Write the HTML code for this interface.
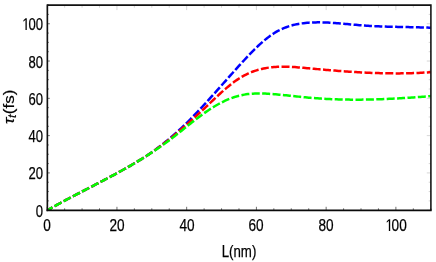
<!DOCTYPE html>
<html><head><meta charset="utf-8"><title>plot</title>
<style>
html,body{margin:0;padding:0;background:#fff;}
#p{position:relative;width:436px;height:262px;overflow:hidden;will-change:transform;
  font-family:"Liberation Sans",sans-serif;font-size:17px;line-height:20px;color:#000;-webkit-text-stroke:0.25px #000;}
svg{display:block;position:absolute;left:0;top:0;}
.t{position:absolute;width:40px;height:20px;white-space:nowrap;}
.xt{text-align:center;transform:scaleX(0.8);transform-origin:50% 50%;}
.yt{text-align:right;transform:scaleX(0.77);transform-origin:100% 50%;}
.k{letter-spacing:-1.5px;color:transparent;-webkit-text-stroke:0 transparent;}
#xl{position:absolute;left:199.20px;top:242.30px;width:80px;height:20px;text-align:center;
  transform:scaleX(0.78);transform-origin:50% 50%;white-space:nowrap;}
#yl{position:absolute;left:-0.40px;top:67.10px;width:20px;height:80px;text-align:center;
  writing-mode:vertical-rl;transform:rotate(180deg) scaleX(0.84);transform-origin:50% 50%;white-space:nowrap;}
#yl i{font-style:italic;}
#yl sub{font-size:12.3px;font-style:italic;vertical-align:baseline;position:relative;left:-3.5px;line-height:0;}
</style></head>
<body>
<div id="p">
<svg width="436" height="262" viewBox="0 0 436 262">
<defs><clipPath id="c"><rect x="47.35" y="5.1" width="383.54999999999995" height="205.1"/></clipPath></defs>
<g clip-path="url(#c)" fill="none" stroke-width="2.5" stroke-dasharray="8 2.4" stroke-dashoffset="2.2">
<path d="M47.35,210.20 L49.09,209.33 L50.84,208.34 L52.58,207.35 L54.32,206.37 L56.07,205.40 L57.81,204.44 L59.55,203.48 L61.30,202.53 L63.04,201.58 L64.78,200.64 L66.53,199.71 L68.27,198.77 L70.01,197.85 L71.76,196.93 L73.50,196.01 L75.24,195.09 L76.99,194.18 L78.73,193.27 L80.47,192.36 L82.22,191.46 L83.96,190.55 L85.70,189.65 L87.45,188.75 L89.19,187.85 L90.94,186.94 L92.68,186.04 L94.42,185.14 L96.17,184.23 L97.91,183.33 L99.65,182.42 L101.40,181.51 L103.14,180.59 L104.88,179.68 L106.63,178.76 L108.37,177.83 L110.11,176.90 L111.86,175.97 L113.60,175.03 L115.34,174.09 L117.09,173.14 L118.83,172.19 L120.57,171.23 L122.32,170.26 L124.06,169.28 L125.80,168.30 L127.55,167.31 L129.29,166.31 L131.03,165.31 L132.78,164.29 L134.52,163.26 L136.26,162.23 L138.01,161.18 L139.75,160.12 L141.49,159.06 L143.24,157.97 L144.98,156.87 L146.72,155.74 L148.47,154.59 L150.21,153.40 L151.95,152.19 L153.70,150.94 L155.44,149.67 L157.18,148.36 L158.93,147.03 L160.67,145.69 L162.41,144.34 L164.16,142.98 L165.90,141.59 L167.65,140.18 L169.39,138.74 L171.13,137.27 L172.88,135.77 L174.62,134.25 L176.36,132.69 L178.11,131.10 L179.85,129.49 L181.59,127.85 L183.34,126.18 L185.08,124.49 L186.82,122.78 L188.57,121.04 L190.31,119.29 L192.05,117.51 L193.80,115.72 L195.54,113.90 L197.28,112.07 L199.03,110.23 L200.77,108.36 L202.51,106.49 L204.26,104.60 L206.00,102.70 L207.74,100.79 L209.49,98.87 L211.23,96.94 L212.97,95.00 L214.72,93.06 L216.46,91.11 L218.20,89.15 L219.95,87.20 L221.69,85.23 L223.43,83.27 L225.18,81.31 L226.92,79.35 L228.66,77.39 L230.41,75.43 L232.15,73.47 L233.89,71.52 L235.64,69.58 L237.38,67.64 L239.12,65.71 L240.87,63.79 L242.61,61.88 L244.36,59.98 L246.10,58.11 L247.84,56.25 L249.59,54.43 L251.33,52.63 L253.07,50.86 L254.82,49.12 L256.56,47.42 L258.30,45.77 L260.05,44.16 L261.79,42.59 L263.53,41.08 L265.28,39.62 L267.02,38.22 L268.76,36.88 L270.51,35.61 L272.25,34.40 L273.99,33.26 L275.74,32.19 L277.48,31.20 L279.22,30.27 L280.97,29.41 L282.71,28.62 L284.45,27.88 L286.20,27.21 L287.94,26.59 L289.68,26.02 L291.43,25.51 L293.17,25.05 L294.91,24.63 L296.66,24.26 L298.40,23.92 L300.14,23.63 L301.89,23.38 L303.63,23.15 L305.37,22.97 L307.12,22.81 L308.86,22.67 L310.60,22.57 L312.35,22.48 L314.09,22.42 L315.83,22.38 L317.58,22.36 L319.32,22.36 L321.07,22.37 L322.81,22.41 L324.55,22.46 L326.30,22.52 L328.04,22.60 L329.78,22.69 L331.53,22.80 L333.27,22.91 L335.01,23.04 L336.76,23.17 L338.50,23.31 L340.24,23.45 L341.99,23.60 L343.73,23.76 L345.47,23.92 L347.22,24.08 L348.96,24.24 L350.70,24.40 L352.45,24.56 L354.19,24.72 L355.93,24.87 L357.68,25.02 L359.42,25.17 L361.16,25.31 L362.91,25.44 L364.65,25.56 L366.39,25.68 L368.14,25.79 L369.88,25.89 L371.62,25.99 L373.37,26.08 L375.11,26.16 L376.85,26.24 L378.60,26.32 L380.34,26.39 L382.08,26.46 L383.83,26.52 L385.57,26.58 L387.31,26.63 L389.06,26.68 L390.80,26.73 L392.54,26.78 L394.29,26.82 L396.03,26.86 L397.78,26.90 L399.52,26.94 L401.26,26.98 L403.01,27.01 L404.75,27.05 L406.49,27.08 L408.24,27.12 L409.98,27.15 L411.72,27.19 L413.47,27.22 L415.21,27.26 L416.95,27.30 L418.70,27.34 L420.44,27.38 L422.18,27.42 L423.93,27.47 L425.67,27.52 L427.41,27.57 L429.16,27.63 L430.90,27.69" stroke="#0000ff"/>
<path d="M47.35,210.20 L49.09,209.33 L50.84,208.34 L52.58,207.35 L54.32,206.37 L56.07,205.40 L57.81,204.44 L59.55,203.48 L61.30,202.53 L63.04,201.58 L64.78,200.64 L66.53,199.71 L68.27,198.77 L70.01,197.85 L71.76,196.93 L73.50,196.01 L75.24,195.09 L76.99,194.18 L78.73,193.27 L80.47,192.36 L82.22,191.46 L83.96,190.55 L85.70,189.65 L87.45,188.75 L89.19,187.85 L90.94,186.94 L92.68,186.04 L94.42,185.14 L96.17,184.23 L97.91,183.33 L99.65,182.42 L101.40,181.51 L103.14,180.59 L104.88,179.68 L106.63,178.76 L108.37,177.83 L110.11,176.90 L111.86,175.97 L113.60,175.03 L115.34,174.09 L117.09,173.14 L118.83,172.19 L120.57,171.23 L122.32,170.26 L124.06,169.28 L125.80,168.30 L127.55,167.31 L129.29,166.31 L131.03,165.31 L132.78,164.29 L134.52,163.26 L136.26,162.23 L138.01,161.18 L139.75,160.12 L141.49,159.06 L143.24,157.98 L144.98,156.88 L146.72,155.76 L148.47,154.63 L150.21,153.46 L151.95,152.28 L153.70,151.06 L155.44,149.82 L157.18,148.56 L158.93,147.27 L160.67,145.98 L162.41,144.67 L164.16,143.36 L165.90,142.02 L167.65,140.67 L169.39,139.29 L171.13,137.89 L172.88,136.47 L174.62,135.03 L176.36,133.56 L178.11,132.08 L179.85,130.58 L181.59,129.06 L183.34,127.54 L185.08,126.00 L186.82,124.45 L188.57,122.89 L190.31,121.33 L192.05,119.76 L193.80,118.18 L195.54,116.59 L197.28,115.00 L199.03,113.39 L200.77,111.78 L202.51,110.15 L204.26,108.52 L206.00,106.87 L207.74,105.22 L209.49,103.57 L211.23,101.91 L212.97,100.26 L214.72,98.61 L216.46,96.98 L218.20,95.36 L219.95,93.76 L221.69,92.18 L223.43,90.63 L225.18,89.10 L226.92,87.62 L228.66,86.17 L230.41,84.76 L232.15,83.40 L233.89,82.08 L235.64,80.83 L237.38,79.62 L239.12,78.48 L240.87,77.40 L242.61,76.39 L244.36,75.43 L246.10,74.54 L247.84,73.71 L249.59,72.93 L251.33,72.20 L253.07,71.53 L254.82,70.91 L256.56,70.34 L258.30,69.82 L260.05,69.35 L261.79,68.92 L263.53,68.53 L265.28,68.19 L267.02,67.88 L268.76,67.62 L270.51,67.39 L272.25,67.19 L273.99,67.03 L275.74,66.90 L277.48,66.81 L279.22,66.74 L280.97,66.69 L282.71,66.67 L284.45,66.68 L286.20,66.71 L287.94,66.76 L289.68,66.82 L291.43,66.91 L293.17,67.01 L294.91,67.12 L296.66,67.25 L298.40,67.38 L300.14,67.53 L301.89,67.68 L303.63,67.84 L305.37,68.00 L307.12,68.16 L308.86,68.33 L310.60,68.49 L312.35,68.65 L314.09,68.81 L315.83,68.97 L317.58,69.13 L319.32,69.29 L321.07,69.45 L322.81,69.60 L324.55,69.75 L326.30,69.90 L328.04,70.05 L329.78,70.20 L331.53,70.34 L333.27,70.48 L335.01,70.62 L336.76,70.76 L338.50,70.90 L340.24,71.03 L341.99,71.16 L343.73,71.29 L345.47,71.41 L347.22,71.53 L348.96,71.65 L350.70,71.77 L352.45,71.88 L354.19,71.99 L355.93,72.10 L357.68,72.20 L359.42,72.30 L361.16,72.39 L362.91,72.48 L364.65,72.57 L366.39,72.65 L368.14,72.73 L369.88,72.81 L371.62,72.88 L373.37,72.95 L375.11,73.01 L376.85,73.07 L378.60,73.12 L380.34,73.17 L382.08,73.21 L383.83,73.25 L385.57,73.29 L387.31,73.32 L389.06,73.34 L390.80,73.36 L392.54,73.37 L394.29,73.38 L396.03,73.39 L397.78,73.38 L399.52,73.38 L401.26,73.36 L403.01,73.34 L404.75,73.32 L406.49,73.28 L408.24,73.25 L409.98,73.20 L411.72,73.15 L413.47,73.10 L415.21,73.03 L416.95,72.96 L418.70,72.89 L420.44,72.80 L422.18,72.71 L423.93,72.62 L425.67,72.51 L427.41,72.40 L429.16,72.29 L430.90,72.16" stroke="#ff0000"/>
<path d="M47.35,210.20 L49.09,209.33 L50.84,208.34 L52.58,207.35 L54.32,206.37 L56.07,205.40 L57.81,204.44 L59.55,203.48 L61.30,202.53 L63.04,201.58 L64.78,200.64 L66.53,199.71 L68.27,198.77 L70.01,197.85 L71.76,196.93 L73.50,196.01 L75.24,195.09 L76.99,194.18 L78.73,193.27 L80.47,192.36 L82.22,191.46 L83.96,190.55 L85.70,189.65 L87.45,188.75 L89.19,187.85 L90.94,186.94 L92.68,186.04 L94.42,185.14 L96.17,184.23 L97.91,183.33 L99.65,182.42 L101.40,181.51 L103.14,180.59 L104.88,179.68 L106.63,178.76 L108.37,177.83 L110.11,176.90 L111.86,175.97 L113.60,175.03 L115.34,174.09 L117.09,173.14 L118.83,172.19 L120.57,171.23 L122.32,170.26 L124.06,169.28 L125.80,168.30 L127.55,167.31 L129.29,166.31 L131.03,165.31 L132.78,164.29 L134.52,163.26 L136.26,162.23 L138.01,161.18 L139.75,160.12 L141.49,159.06 L143.24,157.98 L144.98,156.89 L146.72,155.78 L148.47,154.67 L150.21,153.54 L151.95,152.40 L153.70,151.25 L155.44,150.08 L157.18,148.90 L158.93,147.70 L160.67,146.49 L162.41,145.26 L164.16,144.01 L165.90,142.75 L167.65,141.48 L169.39,140.18 L171.13,138.87 L172.88,137.55 L174.62,136.20 L176.36,134.84 L178.11,133.47 L179.85,132.08 L181.59,130.69 L183.34,129.29 L185.08,127.89 L186.82,126.50 L188.57,125.10 L190.31,123.71 L192.05,122.33 L193.80,120.96 L195.54,119.60 L197.28,118.26 L199.03,116.94 L200.77,115.64 L202.51,114.36 L204.26,113.11 L206.00,111.89 L207.74,110.70 L209.49,109.54 L211.23,108.42 L212.97,107.32 L214.72,106.27 L216.46,105.25 L218.20,104.26 L219.95,103.32 L221.69,102.41 L223.43,101.55 L225.18,100.72 L226.92,99.94 L228.66,99.20 L230.41,98.50 L232.15,97.85 L233.89,97.24 L235.64,96.68 L237.38,96.17 L239.12,95.71 L240.87,95.30 L242.61,94.93 L244.36,94.62 L246.10,94.34 L247.84,94.11 L249.59,93.91 L251.33,93.76 L253.07,93.64 L254.82,93.55 L256.56,93.49 L258.30,93.46 L260.05,93.46 L261.79,93.49 L263.53,93.53 L265.28,93.60 L267.02,93.69 L268.76,93.79 L270.51,93.91 L272.25,94.04 L273.99,94.17 L275.74,94.32 L277.48,94.48 L279.22,94.64 L280.97,94.80 L282.71,94.98 L284.45,95.15 L286.20,95.33 L287.94,95.51 L289.68,95.70 L291.43,95.89 L293.17,96.07 L294.91,96.26 L296.66,96.44 L298.40,96.63 L300.14,96.81 L301.89,96.99 L303.63,97.17 L305.37,97.34 L307.12,97.50 L308.86,97.66 L310.60,97.81 L312.35,97.96 L314.09,98.10 L315.83,98.23 L317.58,98.36 L319.32,98.48 L321.07,98.59 L322.81,98.70 L324.55,98.80 L326.30,98.90 L328.04,98.99 L329.78,99.07 L331.53,99.15 L333.27,99.22 L335.01,99.28 L336.76,99.34 L338.50,99.40 L340.24,99.45 L341.99,99.49 L343.73,99.53 L345.47,99.56 L347.22,99.59 L348.96,99.61 L350.70,99.63 L352.45,99.64 L354.19,99.65 L355.93,99.65 L357.68,99.65 L359.42,99.64 L361.16,99.63 L362.91,99.61 L364.65,99.59 L366.39,99.57 L368.14,99.54 L369.88,99.50 L371.62,99.46 L373.37,99.42 L375.11,99.37 L376.85,99.32 L378.60,99.27 L380.34,99.21 L382.08,99.14 L383.83,99.08 L385.57,99.01 L387.31,98.93 L389.06,98.85 L390.80,98.77 L392.54,98.69 L394.29,98.60 L396.03,98.51 L397.78,98.41 L399.52,98.32 L401.26,98.22 L403.01,98.11 L404.75,98.01 L406.49,97.90 L408.24,97.78 L409.98,97.67 L411.72,97.55 L413.47,97.43 L415.21,97.31 L416.95,97.18 L418.70,97.05 L420.44,96.92 L422.18,96.79 L423.93,96.66 L425.67,96.52 L427.41,96.38 L429.16,96.24 L430.90,96.10" stroke="#00ff00"/>
</g>
<path d="M47.20,5.1 v5.0 M430.9,210.20 h-4.1 M64.63,5.1 v2.6 M430.9,200.88 h-2.2 M82.07,5.1 v2.6 M430.9,191.55 h-2.2 M99.50,5.1 v2.6 M430.9,182.23 h-2.2 M116.94,5.1 v5.0 M430.9,172.91 h-4.1 M134.37,5.1 v2.6 M430.9,163.59 h-2.2 M151.80,5.1 v2.6 M430.9,154.26 h-2.2 M169.24,5.1 v2.6 M430.9,144.94 h-2.2 M186.67,5.1 v5.0 M430.9,135.62 h-4.1 M204.11,5.1 v2.6 M430.9,126.30 h-2.2 M221.54,5.1 v2.6 M430.9,116.97 h-2.2 M238.97,5.1 v2.6 M430.9,107.65 h-2.2 M256.41,5.1 v5.0 M430.9,98.33 h-4.1 M273.84,5.1 v2.6 M430.9,89.00 h-2.2 M291.28,5.1 v2.6 M430.9,79.68 h-2.2 M308.71,5.1 v2.6 M430.9,70.36 h-2.2 M326.15,5.1 v5.0 M430.9,61.04 h-4.1 M343.58,5.1 v2.6 M430.9,51.71 h-2.2 M361.01,5.1 v2.6 M430.9,42.39 h-2.2 M378.45,5.1 v2.6 M430.9,33.07 h-2.2 M395.88,5.1 v5.0 M430.9,23.75 h-4.1 M413.32,5.1 v2.6 M430.9,14.42 h-2.2 M430.75,5.1 v2.6 M430.9,5.10 h-2.2" stroke="#b4b4b4" stroke-width="0.55" fill="none"/>
<path d="M47.20,210.2 v-3.4 M47.35,210.20 h2.5 M64.63,210.2 v-1.9 M47.35,200.88 h1.5 M82.07,210.2 v-1.9 M47.35,191.55 h1.5 M99.50,210.2 v-1.9 M47.35,182.23 h1.5 M116.94,210.2 v-3.4 M47.35,172.91 h2.5 M134.37,210.2 v-1.9 M47.35,163.59 h1.5 M151.80,210.2 v-1.9 M47.35,154.26 h1.5 M169.24,210.2 v-1.9 M47.35,144.94 h1.5 M186.67,210.2 v-3.4 M47.35,135.62 h2.5 M204.11,210.2 v-1.9 M47.35,126.30 h1.5 M221.54,210.2 v-1.9 M47.35,116.97 h1.5 M238.97,210.2 v-1.9 M47.35,107.65 h1.5 M256.41,210.2 v-3.4 M47.35,98.33 h2.5 M273.84,210.2 v-1.9 M47.35,89.00 h1.5 M291.28,210.2 v-1.9 M47.35,79.68 h1.5 M308.71,210.2 v-1.9 M47.35,70.36 h1.5 M326.15,210.2 v-3.4 M47.35,61.04 h2.5 M343.58,210.2 v-1.9 M47.35,51.71 h1.5 M361.01,210.2 v-1.9 M47.35,42.39 h1.5 M378.45,210.2 v-1.9 M47.35,33.07 h1.5 M395.88,210.2 v-3.4 M47.35,23.75 h2.5 M413.32,210.2 v-1.9 M47.35,14.42 h1.5 M430.75,210.2 v-1.9 M47.35,5.10 h1.5" stroke="#333" stroke-width="0.7" fill="none"/>
<path d="M47.35,5.1 H430.9 V210.2" stroke="#111" stroke-width="1.55" fill="none"/>
<path d="M47.35,4.35 V211.14999999999998" stroke="#111" stroke-width="1.65" fill="none"/>
<path d="M46.550000000000004,210.29999999999998 H431.67999999999995" stroke="#0a0a0a" stroke-width="1.85" fill="none"/>
<path d="M505,0 L505,1230 L190,1005 L190,1185 L525,1409 L706,1409 L706,0 Z" transform="translate(385.5,231) scale(0.006641,-0.008301)" fill="#000"/>
<path d="M505,0 L505,1230 L190,1005 L190,1185 L525,1409 L706,1409 L706,0 Z" transform="translate(22.25,30) scale(0.006392,-0.008301)" fill="#000"/>
</svg>
<div class="t xt" style="left:27.25px;top:216.30px">0</div>
<div class="t yt" style="left:3.10px;top:201.70px">0</div>
<div class="t xt" style="left:96.99px;top:216.30px">20</div>
<div class="t yt" style="left:3.10px;top:164.41px">20</div>
<div class="t xt" style="left:166.72px;top:216.30px">40</div>
<div class="t yt" style="left:3.10px;top:127.12px">40</div>
<div class="t xt" style="left:236.46px;top:216.30px">60</div>
<div class="t yt" style="left:3.10px;top:89.83px">60</div>
<div class="t xt" style="left:306.20px;top:216.30px">80</div>
<div class="t yt" style="left:3.10px;top:52.54px">80</div>
<div class="t xt" style="left:375.93px;top:216.30px"><span class="k">1</span>00</div>
<div class="t yt" style="left:3.10px;top:15.25px"><span class="k">1</span>00</div>
<div id="xl">L(nm)</div>
<div id="yl"><i>τ</i><sub>t</sub>(fs)</div>
</div>
</body></html>
